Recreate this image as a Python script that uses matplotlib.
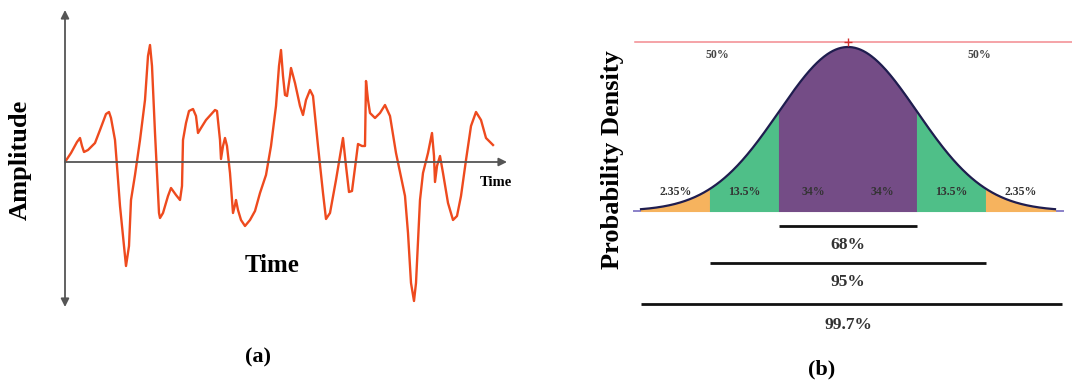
import numpy as np
import matplotlib.pyplot as plt

# (a) sampled signal: time and amplitude
t = [0, 6, 12, 15, 17, 19, 23, 30, 35, 41, 44, 46, 50, 52, 55, 59, 61, 64,
     66, 70, 75, 80, 83, 85, 87, 90, 94, 95, 98, 103, 106, 111, 115, 117,
     118, 121, 124, 128, 131, 133, 136, 141, 150, 152, 155, 156, 158, 160,
     162, 165, 168, 170, 171, 173, 176, 180, 185, 190, 195, 201, 206, 211,
     214, 216, 218, 220, 222, 225, 226, 230, 235, 238, 241, 245, 248, 253,
     258, 261, 265, 271, 278, 281, 284, 287, 291, 293, 297, 300, 301, 303,
     305, 310, 315, 320, 325, 331, 340, 343, 346, 349, 351, 355, 358, 363,
     367, 369, 370, 372, 375, 378, 383, 388, 392, 396, 401, 406, 411, 416,
     421, 428]
amp = [0, 9, 20, 24, 16, 10, 12, 19, 32, 48, 50, 44, 22, -4, -44, -84, -104,
       -84, -38, -13, 22, 62, 106, 117, 96, 29, -51, -56, -51, -34, -26, -33,
       -38, -24, 22, 39, 51, 53, 46, 29, 34, 42, 52, 51, 22, 3, 16, 24, 16,
       -11, -51, -43, -38, -48, -58, -64, -58, -49, -31, -13, 16, 56, 96, 112,
       86, 67, 66, 86, 94, 79, 56, 47, 62, 72, 66, 16, -31, -57, -51, -18, 24,
       -4, -30, -29, 2, 18, 16, 16, 81, 62, 49, 44, 49, 57, 46, 9, -34, -71,
       -121, -139, -121, -38, -11, 9, 29, 6, -20, -4, 6, -11, -41, -58, -54,
       -34, 2, 36, 50, 42, 24, 17]

# (b) normal distribution bands (in standard deviations)
sigma_edges = [-3, -2, -1, 0, 1, 2, 3]
band_labels = ["2.35%", "13.5%", "34%", "34%", "13.5%", "2.35%"]
band_colors = ["#f6b35e", "#4fbf88", "#744c86", "#744c86", "#4fbf88", "#f6b35e"]
cover_sigma = [1, 2, 3]
cover_labels = ["68%", "95%", "99.7%"]
half_labels = ["50%", "50%"]

serif = "Liberation Serif"
W, H = 1072, 385
fig = plt.figure(figsize=(W / 100, H / 100), dpi=100)


def px_axes(x0, y0, x1, y1):
    # axes from pixel box (top-left origin)
    return fig.add_axes([x0 / W, 1 - y1 / H, (x1 - x0) / W, (y1 - y0) / H])


# ---- left panel: signal ----
ax1 = px_axes(65, 10, 507, 307)
ax1.set_xlim(0, 442)
ax1.set_ylim(-145, 152)
ax1.axis("off")
ax1.plot(t, amp, color="#ee4a1e", lw=1.7, solid_joinstyle="round", zorder=3)
ax1.annotate("", xy=(442, 0), xytext=(0, 0),
             arrowprops=dict(arrowstyle="-|>", color="#555555", lw=1.3,
                             mutation_scale=12, shrinkA=0, shrinkB=0))
ax1.annotate("", xy=(0, 152), xytext=(0, -145),
             arrowprops=dict(arrowstyle="<|-|>", color="#555555", lw=1.3,
                             mutation_scale=12, shrinkA=0, shrinkB=0))
ax1.text(415, -21, "Time", family=serif, weight="bold", fontsize=10.5,
         ha="left", va="center")
ax1.text(207, -103, "Time", family=serif, weight="bold", fontsize=18,
         ha="center", va="center")
fig.text(20 / W, 1 - 160 / H, "Amplitude", family=serif, weight="bold",
         fontsize=19, rotation=90, ha="center", va="center")
fig.text(258 / W, 1 - 357 / H, "(a)", family=serif, weight="bold",
         fontsize=16, ha="center", va="center")

# ---- right panel: normal curve ----
s = 69.0      # pixels per sigma
mu = 848.0
base = 211.0
peak = 164.0  # pixels per unit height
ax2 = px_axes(600, 0, 1072, 385)
ax2.set_xlim((600 - mu) / s, (1072 - mu) / s)
ax2.set_ylim((base - 385) / peak, base / peak)
ax2.axis("off")

z = np.linspace(-3, 3, 601)
pdf = np.exp(-z ** 2 / 2)
for i in range(len(band_labels)):
    lo, hi = sigma_edges[i], sigma_edges[i + 1]
    m = (z >= lo) & (z <= hi)
    ax2.fill_between(z[m], 0, pdf[m], facecolor=band_colors[i],
                     edgecolor=band_colors[i], lw=0.8, zorder=2)
    ax2.text((lo + hi) / 2, 0.115, band_labels[i], family=serif,
             weight="bold", fontsize=8.5, color="#333333",
             ha="center", va="center", zorder=4)
ax2.plot(z, pdf, color="#1f1d4f", lw=1.6, zorder=3)
ax2.plot([-3.1, 3.12], [0, 0], color="#8a80c8", lw=1.4, zorder=1)
ax2.axhline(1.03, xmin=(635 - 600) / 472, color="#f28a90", lw=1.1, zorder=1)
ax2.plot([0], [1.03], marker="+", color="#d03030", ms=6, mew=1, zorder=5)

for x, lab in zip([-1.9, 1.9], half_labels):
    ax2.text(x, 0.95, lab, family=serif, weight="bold", fontsize=8.5,
             color="#444444", ha="center", va="center")

bar_y = [-0.092, -0.317, -0.567]
txt_y = [-0.207, -0.433, -0.695]
for k, lab, by, ty in zip(cover_sigma, cover_labels, bar_y, txt_y):
    ax2.plot([-k, k + (0.1 if k == 3 else 0)], [by, by], color="#111111",
             lw=2.0, solid_capstyle="butt")
    ax2.text(0, ty, lab, family=serif, weight="bold", fontsize=12.5,
             color="#333333", ha="center", va="center")

fig.text(612 / W, 1 - 160 / H, "Probability Density", family=serif,
         weight="bold", fontsize=19, rotation=90, ha="center", va="center")
fig.text(822 / W, 1 - 369 / H, "(b)", family=serif, weight="bold",
         fontsize=16, ha="center", va="center")

fig.savefig("out.png", dpi=100, facecolor="white")
